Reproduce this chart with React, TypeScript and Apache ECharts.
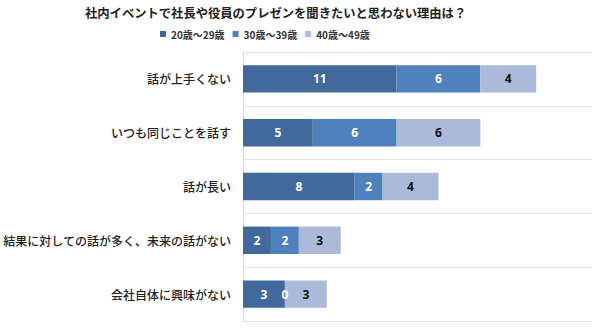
import React, { useEffect, useRef } from "react";
import * as echarts from "echarts";

const categories = [
  "話が上手くない",
  "いつも同じことを話す",
  "話が長い",
  "結果に対しての話が多く、未来の話がない",
  "会社自体に興味がない",
];
const seriesNames = ["20歳～29歳", "30歳～39歳", "40歳～49歳"];
const age20s = [11, 5, 8, 2, 3];
const age30s = [6, 6, 2, 2, 0];
const age40s = [4, 6, 4, 3, 3];
const colors = ["#41699B", "#4F81BD", "#AABAD8"];
const labelColors = ["#ffffff", "#ffffff", "#111111"];

export default function App() {
  const ref = useRef<HTMLDivElement>(null);
  useEffect(() => {
    document.body.style.margin = "0";
    if (!ref.current) return;
    const chart = echarts.init(ref.current, undefined, { renderer: "svg" });
    const font = "'Noto Sans CJK JP', sans-serif";
    const data = [age20s, age30s, age40s];
    chart.setOption({
      animation: false,
      title: {
        text: "社内イベントで社長や役員のプレゼンを聞きたいと思わない理由は？",
        left: 80,
        top: 2,
        textStyle: { fontSize: 12.3, fontWeight: "bold", color: "#222", fontFamily: font },
      },
      legend: {
        top: 24,
        left: 155,
        itemWidth: 6,
        itemHeight: 6,
        itemGap: 8,
        icon: "rect",
        textStyle: { fontSize: 10, fontWeight: "bold", color: "#333", fontFamily: font },
        data: seriesNames,
      },
      grid: { left: 242, right: 8, top: 52, bottom: 8, containLabel: false },
      xAxis: {
        type: "value",
        min: 0,
        max: 25,
        show: false,
        splitLine: { show: false },
      },
      yAxis: {
        type: "category",
        inverse: true,
        data: categories,
        axisTick: { show: false },
        axisLine: { show: true, lineStyle: { color: "#D9D9D9" } },
        splitLine: { show: true, lineStyle: { color: "#E3E3E3", width: 1 } },
        axisLabel: {
          margin: 12,
          fontSize: 12,
          color: "#222",
          fontWeight: 500,
          fontFamily: font,
        },
      },
      series: seriesNames.map((name, i) => ({
        name,
        type: "bar",
        stack: "total",
        barWidth: "51%",
        data: data[i],
        itemStyle: { color: colors[i] },
        label: {
          show: true,
          position: "inside",
          color: labelColors[i],
          fontSize: 12,
          fontWeight: "bold",
          fontFamily: "'Open Sans', sans-serif",
        },
      })),
    });
    return () => chart.dispose();
  }, []);
  return <div ref={ref} style={{ width: 600, height: 329 }} />;
}
